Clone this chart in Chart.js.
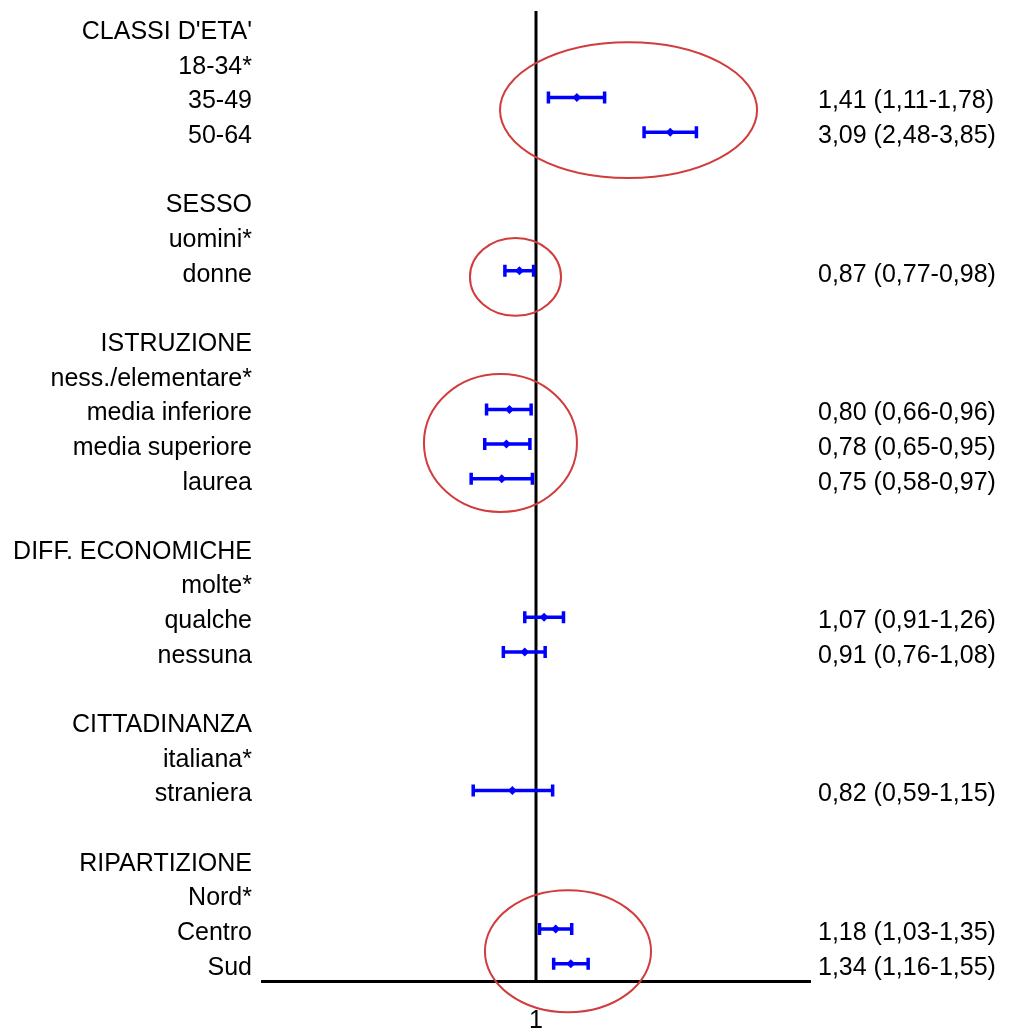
<!DOCTYPE html>
<html>
<head>
<meta charset="utf-8">
<script src="https://cdn.jsdelivr.net/npm/chart.js@4"></script>
<style>
  body { margin: 0; background: #fff; }
  #wrap { width: 1009px; height: 1030px; }
</style>
</head>
<body>
<div id="wrap"><canvas id="forest"></canvas></div>
<script>
// rows, top to bottom ('' = spacer row)
const rowLabels = [
  "CLASSI D'ETA'", '18-34*', '35-49', '50-64', '',
  'SESSO', 'uomini*', 'donne', '',
  'ISTRUZIONE', 'ness./elementare*', 'media inferiore', 'media superiore', 'laurea', '',
  'DIFF. ECONOMICHE', 'molte*', 'qualche', 'nessuna', '',
  'CITTADINANZA', 'italiana*', 'straniera', '',
  'RIPARTIZIONE', 'Nord*', 'Centro', 'Sud'
];

// odds ratio and 95% CI per row (null = header / reference)
const est = [null, null, 1.41, 3.09, null, null, null, 0.87, null, null, null, 0.80, 0.78, 0.75, null, null, null, 1.07, 0.91, null, null, null, 0.82, null, null, null, 1.18, 1.34];
const lo  = [null, null, 1.11, 2.48, null, null, null, 0.77, null, null, null, 0.66, 0.65, 0.58, null, null, null, 0.91, 0.76, null, null, null, 0.59, null, null, null, 1.03, 1.16];
const hi  = [null, null, 1.78, 3.85, null, null, null, 0.98, null, null, null, 0.96, 0.95, 0.97, null, null, null, 1.26, 1.08, null, null, null, 1.15, null, null, null, 1.35, 1.55];

// x axis
const xMin = 0.1;
const xMax = 10;
const xTicks = [1];

// red ellipses drawn round groups (data units: OR on x, row index on y)
const ellXMin = [0.739, 0.574, 0.390, 0.651];
const ellXMax = [6.41, 1.234, 1.411, 2.63];
const ellYMin = [0.40, 6.05, 9.98, 24.88];
const ellYMax = [4.32, 8.30, 13.96, 28.4];

const fmt = (v) => v.toFixed(2).replace('.', ',');
const rightLabels = est.map((v, i) => v === null ? '' : fmt(v) + ' (' + fmt(lo[i]) + '-' + fmt(hi[i]) + ')');

const FONT = { family: '"Liberation Sans", Arial, sans-serif', size: 25 };
// small line height on the row axes so they don't push the plot area down
const ROW_FONT = { family: FONT.family, size: 25, lineHeight: 0.4 };

const forestPlugin = {
  id: 'forest',
  beforeDatasetsDraw(chart) {
    const { ctx, chartArea, scales } = chart;
    const x = scales.x, y = scales.y;
    ctx.save();
    // reference line at OR = 1
    const x1 = x.getPixelForValue(1);
    ctx.strokeStyle = '#000';
    ctx.lineWidth = 3;
    ctx.beginPath();
    ctx.moveTo(x1, chartArea.top);
    ctx.lineTo(x1, chartArea.bottom);
    ctx.stroke();

    // confidence intervals
    ctx.strokeStyle = '#0000ff';
    ctx.lineWidth = 3.5;
    est.forEach((v, i) => {
      if (v === null) return;
      const py = y.getPixelForValue(i);
      const pl = x.getPixelForValue(lo[i]);
      const ph = x.getPixelForValue(hi[i]);
      ctx.beginPath();
      ctx.moveTo(pl, py); ctx.lineTo(ph, py);
      ctx.moveTo(pl, py - 6); ctx.lineTo(pl, py + 6);
      ctx.moveTo(ph, py - 6); ctx.lineTo(ph, py + 6);
      ctx.stroke();
    });
    ctx.restore();
  },
  afterDraw(chart) {
    const { ctx, scales } = chart;
    const x = scales.x, y = scales.y;
    ctx.save();
    ctx.strokeStyle = '#d23c3c';
    ctx.lineWidth = 2;
    for (let k = 0; k < ellXMin.length; k++) {
      const l = x.getPixelForValue(ellXMin[k]);
      const r = x.getPixelForValue(ellXMax[k]);
      const t = y.getPixelForValue(ellYMin[k]);
      const b = y.getPixelForValue(ellYMax[k]);
      ctx.beginPath();
      ctx.ellipse((l + r) / 2, (t + b) / 2, (r - l) / 2, (b - t) / 2, 0, 0, Math.PI * 2);
      ctx.stroke();
    }
    ctx.restore();
  }
};

new Chart(document.getElementById('forest'), {
  type: 'scatter',
  data: {
    datasets: [{
      data: est.map((v, i) => ({ x: v, y: i })),
      pointStyle: 'rectRot',
      pointRadius: 4.5,
      backgroundColor: '#0000ff',
      borderColor: '#0000ff',
      borderWidth: 0,
    }],
  },
  options: {
    responsive: true,
    maintainAspectRatio: false,
    animation: false,
    layout: { autoPadding: false, padding: { top: 11 } },
    plugins: { legend: { display: false }, tooltip: { enabled: false } },
    scales: {
      x: {
        type: 'logarithmic',
        min: xMin,
        max: xMax,
        afterBuildTicks: (axis) => { axis.ticks = xTicks.map((v) => ({ value: v })); },
        afterFit: (axis) => { axis.height = 49; },
        grid: { display: false },
        border: { display: true, color: '#000', width: 3 },
        ticks: { color: '#000', font: FONT, padding: 17, maxRotation: 0, autoSkip: false, callback: (v) => String(v) },
      },
      y: {
        type: 'category',
        labels: rowLabels,
        offset: true,
        afterFit: (axis) => { axis.width = 262; },
        grid: { display: false },
        border: { display: false },
        ticks: { color: '#000', font: ROW_FONT, padding: 2, labelOffset: 4, autoSkip: false },
      },
      y2: {
        type: 'category',
        position: 'right',
        labels: rightLabels,
        offset: true,
        afterFit: (axis) => { axis.width = 199; },
        grid: { display: false },
        border: { display: false },
        ticks: { color: '#000', font: ROW_FONT, padding: 0, labelOffset: 4, autoSkip: false },
      },
    },
  },
  plugins: [forestPlugin],
});
</script>
</body>
</html>
